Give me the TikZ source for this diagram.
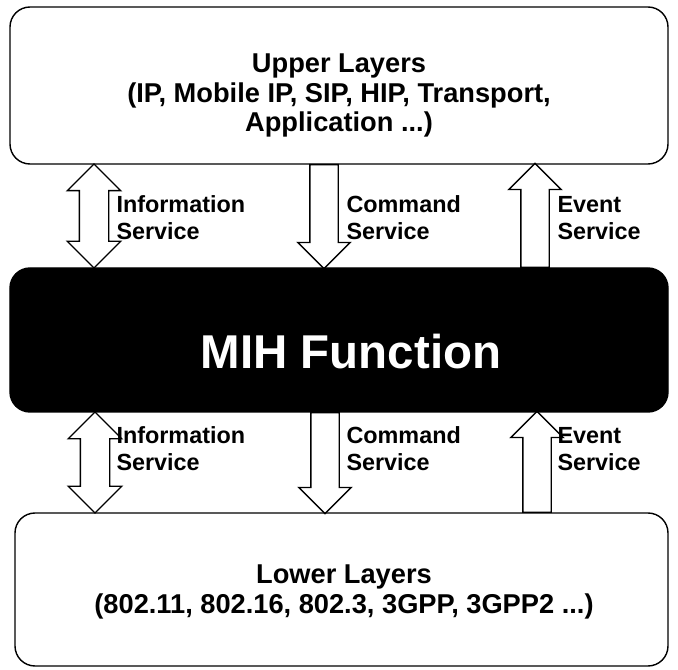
\documentclass[tikz,border=0pt]{standalone}
\usepackage{fontspec}
\setmainfont{Liberation Sans}
\usepackage{tikz}
\usetikzlibrary{shapes.arrows}
\usetikzlibrary{positioning}

\begin{document}
\begin{tikzpicture}[
                line width=0.8pt,
                font=\bfseries\fontsize{13.3}{15.5}\selectfont,
                layerbox/.style={
                        draw,
                        rounded corners=0.4cm,
                        minimum width=13.16cm,
                        align=center
                    },
                layertext/.style={
                        align=center,
                        font=\bfseries\fontsize{15.5}{16.6}\selectfont
                    },
                updown/.style={
                        draw,
                        double arrow,
                        inner xsep=0pt,
                        inner ysep=0.28cm,
                        double arrow head extend=0.24cm,
                        minimum height=#1
                    },
                oneway/.style={
                        draw,
                        single arrow,
                        inner xsep=0pt,
                        inner ysep=0.27cm,
                        single arrow head extend=0.24cm,
                        minimum height=#1,
                        anchor=tail
                    },
                textnode/.style={
                        draw=none,
                        align=left,
                        anchor=west
                    }
            ]

            \useasboundingbox (0,0) rectangle (13.56,-13.4);

            % Layer boxes
            \node[layerbox, minimum height=3.14cm] (upper) at (6.78,-1.71) {};
            \node[layertext] (uppertext) at (6.78,-1.91)
                {Upper Layers\\(IP, Mobile IP, SIP, HIP, Transport,\\Application ...)};
            \node[layerbox, fill=black, minimum height=2.88cm] (mih) at (6.78,-6.8) {};
            \node[text=white, font=\bfseries\fontsize{27}{30}\selectfont] (mihtext) at (7.02,-7.04)
                {MIH Function};
            \node[layerbox, minimum width=13.06cm, minimum height=3.06cm] (lower) at (6.83,-11.79) {};
            \node[layertext] (lowertext) at (6.88,-11.84)
                {Lower Layers\\(802.11, 802.16, 802.3, 3GPP, 3GPP2 ...)};

            % Service arrows between upper layers and MIH
            \node[updown=2.08cm, rotate=90] (infoup) at (1.88,-4.32) {};
            \node[oneway=2.08cm, rotate=-90] (cmdup) at (6.48,-3.28) {};
            \node[oneway=2.08cm, rotate=90] (evup) at (10.7,-5.36) {};

            % Service arrows between MIH and lower layers
            \node[updown=2.02cm, rotate=90] (infolow) at (1.9,-9.25) {};
            \node[oneway=2.02cm, rotate=-90] (cmdlow) at (6.5,-8.24) {};
            \node[oneway=2.02cm, rotate=90] (evlow) at (10.74,-10.26) {};

            % Service names
            \node[textnode] (infouptext) at (2.2,-4.36) {Information\\Service};
            \node[textnode] (cmduptext) at (6.8,-4.36) {Command\\Service};
            \node[textnode] (evuptext) at (11.02,-4.36) {Event\\Service};
            \node[textnode] (infolowtext) at (2.2,-8.98) {Information\\Service};
            \node[textnode] (cmdlowtext) at (6.8,-8.98) {Command\\Service};
            \node[textnode] (evlowtext) at (11.02,-8.98) {Event\\Service};

        \end{tikzpicture}
\end{document}
